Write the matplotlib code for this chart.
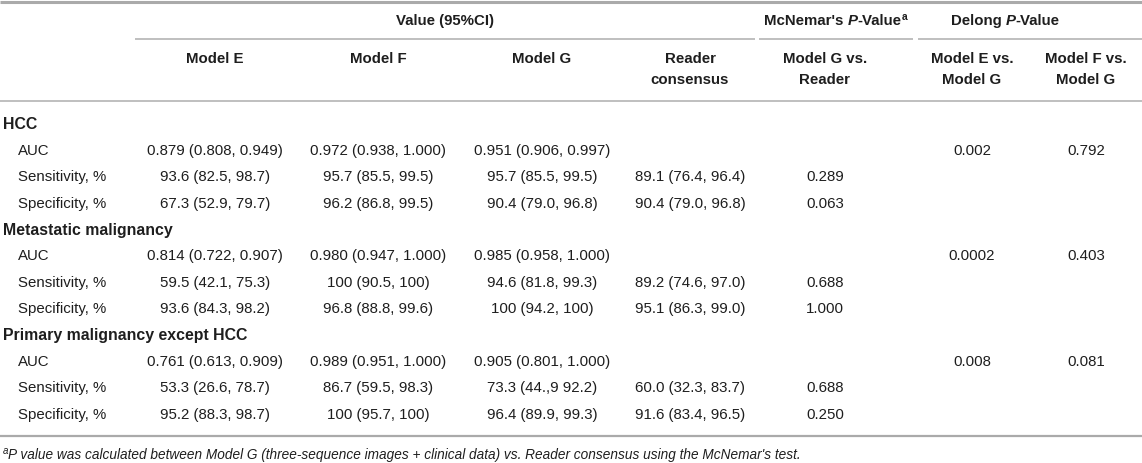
import matplotlib
matplotlib.use("Agg")
import matplotlib.pyplot as plt

plt.rcParams['font.family'] = ['Liberation Sans', 'DejaVu Sans']

# table content
sections = ["HCC", "Metastatic malignancy", "Primary malignancy except HCC"]
metrics = ["AUC", "Sensitivity, %", "Specificity, %"]

model_e = [["0.879 (0.808, 0.949)", "93.6 (82.5, 98.7)", "67.3 (52.9, 79.7)"],
           ["0.814 (0.722, 0.907)", "59.5 (42.1, 75.3)", "93.6 (84.3, 98.2)"],
           ["0.761 (0.613, 0.909)", "53.3 (26.6, 78.7)", "95.2 (88.3, 98.7)"]]
model_f = [["0.972 (0.938, 1.000)", "95.7 (85.5, 99.5)", "96.2 (86.8, 99.5)"],
           ["0.980 (0.947, 1.000)", "100 (90.5, 100)", "96.8 (88.8, 99.6)"],
           ["0.989 (0.951, 1.000)", "86.7 (59.5, 98.3)", "100 (95.7, 100)"]]
model_g = [["0.951 (0.906, 0.997)", "95.7 (85.5, 99.5)", "90.4 (79.0, 96.8)"],
           ["0.985 (0.958, 1.000)", "94.6 (81.8, 99.3)", "100 (94.2, 100)"],
           ["0.905 (0.801, 1.000)", "73.3 (44.,9 92.2)", "96.4 (89.9, 99.3)"]]
reader = [["", "89.1 (76.4, 96.4)", "90.4 (79.0, 96.8)"],
          ["", "89.2 (74.6, 97.0)", "95.1 (86.3, 99.0)"],
          ["", "60.0 (32.3, 83.7)", "91.6 (83.4, 96.5)"]]
mcnemar = [["", "0.289", "0.063"],
           ["", "0.688", "1.000"],
           ["", "0.688", "0.250"]]
delong_e = ["0.002", "0.0002", "0.008"]
delong_f = ["0.792", "0.403", "0.081"]

col_headers = [["Model E"], ["Model F"], ["Model G"], ["Reader", "consensus"],
               ["Model G vs.", "Reader"], ["Model E vs.", "Model G"],
               ["Model F vs.", "Model G"]]
footnote = ("P value was calculated between Model G (three-sequence images + clinical data) "
            "vs. Reader consensus using the McNemar's test.")

W, H = 1142, 464
fig = plt.figure(figsize=(W / 100, H / 100), dpi=100)
ax = fig.add_axes([0, 0, 1, 1])
ax.set_xlim(0, W)
ax.set_ylim(H, 0)
ax.axis('off')

txt = '#1e1e1e'
line_c = '#b4b4b4'
fs = 10.8
renderer = fig.canvas.get_renderer()


def rich(x, y, parts, size=fs, ha='center'):
    # draw text pieces side by side, measure them and then shift into place
    objs = []
    widths = []
    for s, kw in parts:
        t = ax.text(0, y, s, ha='left', va='center', size=kw.get('size', size),
                    weight=kw.get('weight', 'normal'), style=kw.get('style', 'normal'),
                    color=txt)
        bb = t.get_window_extent(renderer)
        objs.append((t, kw.get('dy', 0)))
        widths.append(bb.width)
    total = sum(widths)
    start = x - total / 2 if ha == 'center' else x
    for (t, dy), w in zip(objs, widths):
        t.set_position((start, y + dy))
        start += w


# rules
ax.hlines(3, 0, W, color='#aaaaaa', lw=2.2)
ax.hlines(40, 135, 755, color=line_c, lw=1.2)
ax.hlines(40, 759, 913, color=line_c, lw=1.2)
ax.hlines(40, 918, W, color=line_c, lw=1.2)
ax.hlines(102, 0, W, color=line_c, lw=1.2)
ax.hlines(437, 0, W, color='#aaaaaa', lw=1.6)

# group headers
bold = {'weight': 'bold'}
rich(445, 21, [("Value (95%CI)", bold)])
rich(836, 21, [("McNemar's ", bold), ("P", {'weight': 'bold', 'style': 'italic'}),
               ("-Value", bold), ("a", {'weight': 'bold', 'size': 7.5, 'dy': -4})])
rich(1005, 21, [("Delong ", bold), ("P", {'weight': 'bold', 'style': 'italic'}),
                ("-Value", bold)])

col_x = [215, 378, 542, 690, 825, 972, 1086]
for cx, lines in zip(col_x, col_headers):
    for li, s in enumerate(lines):
        ax.text(cx, 59 + li * 21.5, s, ha='center', va='center', size=fs,
                weight='bold', color=txt)

# body
y0 = 124.5
dy = 26.4
row = 0
for si, sec in enumerate(sections):
    ax.text(3, y0 + row * dy, sec, ha='left', va='center', size=11.4,
            weight='bold', color=txt)
    row += 1
    for mi, met in enumerate(metrics):
        y = y0 + row * dy
        ax.text(18, y, met, ha='left', va='center', size=fs, color=txt)
        cells = [model_e[si][mi], model_f[si][mi], model_g[si][mi],
                 reader[si][mi], mcnemar[si][mi],
                 delong_e[si] if mi == 0 else "", delong_f[si] if mi == 0 else ""]
        for cx, val in zip(col_x, cells):
            if val:
                ax.text(cx, y, val, ha='center', va='center', size=fs, color=txt)
        row += 1

# footnote
rich(3, 455, [("a", {'size': 7, 'style': 'italic', 'dy': -4}),
              (footnote, {'size': 9.8, 'style': 'italic'})], ha='left')

fig.savefig('out.png', dpi=100)
